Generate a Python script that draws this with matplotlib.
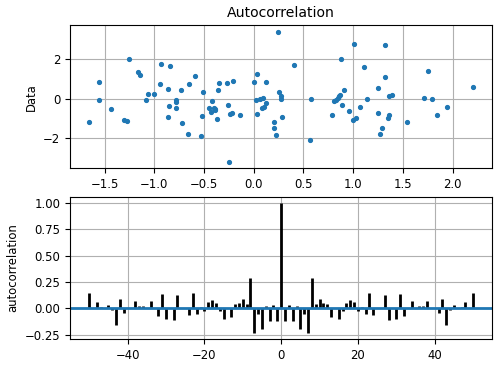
import numpy as np
import matplotlib
matplotlib.use("Agg")
import matplotlib.pyplot as plt

# Scatter data
x_vals = [-1.654, -1.553, -1.553, -1.433, -1.305, -1.279, -1.252, -1.165, -1.148, -1.081,
          -1.058, -1.004, -0.938, -0.928, -0.860, -0.850, -0.860, -0.843, -0.777, -0.777,
          -0.777, -0.733, -0.717, -0.663, -0.646, -0.586, -0.526, -0.516, -0.509, -0.449,
          -0.432, -0.422, -0.402, -0.392, -0.385, -0.371, -0.355, -0.352, -0.268, -0.261,
          -0.251, -0.238, -0.218, -0.205, -0.134, 0.003, 0.020, 0.030, 0.036, 0.063,
          0.080, 0.097, 0.103, 0.123, 0.123, 0.200, 0.200, 0.227, 0.240, 0.254,
          0.274, 0.277, 0.287, 0.405, 0.568, 0.578, 0.789, 0.810, 0.830, 0.843,
          0.857, 0.867, 0.877, 0.884, 0.904, 0.954, 0.994, 1.004, 1.030, 1.064,
          1.107, 1.134, 1.251, 1.251, 1.271, 1.288, 1.321, 1.321, 1.345, 1.355,
          1.362, 1.392, 1.536, 1.713, 1.750, 1.793, 1.843, 1.938, 2.205]
y_vals = [-1.16, 0.86, -0.05, -0.52, -1.06, -1.11, 2.00, 1.33, 1.20, -0.08,
          0.25, 0.22, 0.73, 1.77, 0.51, -0.35, -0.91, 1.67, -0.05, -0.17,
          -0.49, 0.46, -1.24, -1.77, 0.73, 1.15, -1.90, -0.87, 0.34, -0.47,
          -0.69, -0.13, -0.47, -0.57, -0.50, -1.03, 0.42, 0.78, 0.78, -0.30,
          -3.18, -0.76, -0.71, 0.89, -0.82, 0.84, -0.08, -0.77, 1.25, 0.00,
          -0.47, 0.03, -0.44, -0.20, 0.86, -1.16, -1.50, -1.85, 3.38, 0.32,
          0.15, -0.02, -0.91, 1.72, -2.10, -0.02, -0.82, -0.12, -0.07, 0.03,
          0.12, 0.19, 2.00, -0.30, 0.42, -0.61, -1.08, 2.75, -0.99, -0.44,
          1.58, -0.02, 0.56, -0.74, -1.80, -1.50, 1.11, 2.70, -0.99, -0.84,
          0.15, 0.20, -1.16, 0.03, 1.41, -0.02, -0.82, -0.40, 0.59]

# Autocorrelation values for lags 1..50 (symmetric around lag 0)
acorr_pos = [-0.117, 0.035, -0.117, 0.025, -0.20, -0.055, -0.23, 0.29, 0.04, 0.087,
             0.052, 0.045, -0.085, 0.005, -0.10, -0.022, 0.047, 0.082, 0.065, -0.025,
             0.01, -0.05, 0.145, -0.06, 0.0, 0.0, 0.125, -0.11, 0.0, -0.10,
             0.135, -0.07, 0.0, 0.07, 0.0, 0.02, 0.02, 0.07, 0.0, 0.0,
             -0.04, 0.09, -0.155, -0.02, 0.03, 0.0, 0.015, 0.065, 0.0, 0.145]
lags = np.arange(-50, 51)
acorr_vals = np.concatenate([acorr_pos[::-1], [1.0], acorr_pos])

plt.rcParams['font.size'] = 8.4

fig = plt.figure(figsize=(5.0, 3.68), dpi=100)
ax1 = fig.add_axes([0.14, 0.5435, 0.8446, 0.3875])
ax2 = fig.add_axes([0.14, 0.0788, 0.8446, 0.3867])

ax1.plot(x_vals, y_vals, '.', markersize=5.5)
ax1.grid(True)
ax1.set_title('Autocorrelation')
ax1.set_ylabel('Data')

ax2.vlines(lags, 0, acorr_vals, colors='k', lw=2)
ax2.axhline(0, color='C0', lw=2)
ax2.set_xlim(-55, 55)
ax2.set_ylim(-0.2915, 1.0615)
ax2.grid(True)
ax2.set_ylabel('autocorrelation')

fig.savefig('out.png', dpi=100)
